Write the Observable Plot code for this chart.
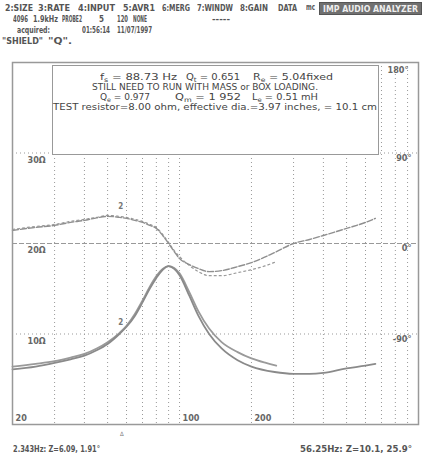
<!DOCTYPE html>
<html><head><meta charset="utf-8">
<script src="https://cdn.jsdelivr.net/npm/d3@7"></script>
<script src="https://cdn.jsdelivr.net/npm/@observablehq/plot@0.6"></script>
<style>
body{margin:0;background:#fff;}
#wrap{position:relative;width:423px;height:455px;overflow:hidden;background:#fff;}
#wrap svg{position:absolute;left:0;top:0;}
.t{position:absolute;white-space:nowrap;transform-origin:0 50%;font-family:"DejaVu Sans Condensed","DejaVu Sans",sans-serif;color:#555;line-height:1;}
.t sub{font-size:70%;vertical-align:-2px;line-height:0;}
</style></head><body><div id="wrap"></div>
<script>
// ---- data ----
const freqA = [20,25,30,35,40,45,50,56,60,65,70,75,80,85,90,95,100,110,120,133,150,175,200,250,300,350,400,500,600,660];
const zA    = [6.1,6.4,6.8,7.2,7.6,8.2,8.9,10.0,10.8,12.0,13.5,15.0,16.2,17.1,17.5,17.2,16.5,14.2,12.0,10.0,8.4,7.1,6.4,5.8,5.6,5.6,5.7,6.2,6.5,6.7];
const phA   = [13,16,18,21,23,25.5,27,26,25,23,21,18,15,8,0,-8,-15,-21,-25,-28,-27,-23,-19,-9,0,4,8,15,21,25];
const freqB = [20,25,30,35,40,45,50,56,60,65,70,75,80,85,90,95,100,110,120,133,150,175,200,230,254];
const zB    = [6.4,6.7,7.0,7.4,7.8,8.4,9.1,10.1,10.9,12.2,13.7,15.2,16.4,17.2,17.5,17.3,16.7,14.6,12.5,10.6,9.1,8.0,7.3,6.8,6.5];
const phB   = [14,17,19,22,24,26,28,27,26,24,22,19,16,9,1,-7,-13,-22,-28,-32,-32,-29,-26,-22,-18];
const gridFreqs = [30,40,50,60,70,80,90,100,200,300,400,500,600,700,800,900];
const zTicks = [10,20,30];
const zTickLabels = ["10Ω","20Ω","30Ω"];
const phaseTicks = [90,0,-90];
const phaseTickLabels = ["90°","0°","-90°"];
const phaseTop = 180;
const freqTicks = [20,100,200];
const freqTickLabels = ["20","100","200"];
const cursorFreq = 56.2, cursorZ = 10.1, cursorPhase = 25.9;

// phase (deg) shares the vertical scale: +180° top (40Ω), -180° bottom (0Ω)
const phY = p => 20 + p / 9;

const serA = freqA.map((f,i)=>({f, z:zA[i], p:phY(phA[i])}));
const serB = freqB.map((f,i)=>({f, z:zB[i], p:phY(phB[i])}));

const grey = "#8a8a8a";
const font = '"DejaVu Sans Condensed","DejaVu Sans",sans-serif';

const chart = Plot.plot({
  width: 423, height: 455,
  marginLeft: 12, marginRight: 5, marginTop: 62, marginBottom: 31,
  style: {background: "#fff", fontFamily: font},
  x: {type: "log", domain: [20, 1000], axis: null},
  y: {domain: [0, 40], axis: null},
  marks: [
    Plot.ruleX(gridFreqs, {stroke: "#999", strokeDasharray: "1,3", strokeWidth: 1}),
    Plot.ruleY([10, 30], {stroke: "#999", strokeDasharray: "1,3", strokeWidth: 1}),
    Plot.ruleY([20], {stroke: "#999", strokeDasharray: "5,2", strokeWidth: 1}),
    Plot.line(serB, {x: "f", y: "p", stroke: "#9a9a9a", strokeWidth: 1.2, strokeDasharray: "2,3", curve: "monotone-x"}),
    Plot.line(serA, {x: "f", y: "p", stroke: "#8f8f8f", strokeWidth: 1.4, strokeDasharray: "6,2", curve: "monotone-x"}),
    Plot.line(serB, {x: "f", y: "z", stroke: "#9a9a9a", strokeWidth: 1.8, curve: "monotone-x"}),
    Plot.line(serA, {x: "f", y: "z", stroke: grey, strokeWidth: 1.8, curve: "monotone-x"}),
    Plot.frame({stroke: "#999", strokeWidth: 1.5}),
    Plot.text(zTicks, {x: () => 20, y: d => d, text: (d, i) => zTickLabels[i], textAnchor: "start", dx: 15, dy: 7, fontSize: 9, fontWeight: "bold", fill: "#666"}),
    Plot.text(phaseTicks, {x: () => 1000, y: d => phY(d), text: (d, i) => phaseTickLabels[i], textAnchor: "end", dx: -7, dy: 5, fontSize: 9, fontWeight: "bold", fill: "#666"}),
    Plot.text([phaseTop], {x: () => 1000, y: d => phY(d), text: d => d + "°", textAnchor: "end", dx: -10, dy: 8, fontSize: 9, fontWeight: "bold", fill: "#666"}),
    Plot.text(freqTicks, {x: d => d, y: () => 0, text: (d, i) => freqTickLabels[i], textAnchor: "start", dx: 3, dy: -6, fontSize: 9, fontWeight: "bold", fill: "#666"}),
    Plot.text([cursorFreq], {x: d => d, y: () => cursorZ, text: () => "2", dx: 1, dy: -11, fontSize: 8, fontWeight: "bold", fill: "#777"}),
    Plot.text([cursorFreq], {x: d => d, y: () => phY(cursorPhase), text: () => "2", dx: 1, dy: -11, fontSize: 8, fontWeight: "bold", fill: "#777"}),
    Plot.text([cursorFreq], {x: d => d, y: () => 0, text: () => "Δ", dx: 2, dy: 10, fontSize: 6, fill: "#777"})
  ]
});
const wrap = document.getElementById("wrap");
wrap.appendChild(chart);

function put(html, x0, x1, yc, o = {}) {
  const s = document.createElement("div");
  s.className = "t";
  s.innerHTML = html;
  s.style.fontSize = (o.size || 9) + "px";
  s.style.fontWeight = o.bold ? "bold" : "normal";
  if (o.color) s.style.color = o.color;
  wrap.appendChild(s);
  const r = s.getBoundingClientRect();
  s.style.left = x0 + "px";
  s.style.top = (yc - r.height / 2) + "px";
  s.style.transform = `scaleX(${(x1 - x0) / r.width})`;
  return s;
}
function box(x, y, w, h, bg, border) {
  const d = document.createElement("div");
  Object.assign(d.style, {position: "absolute", left: x + "px", top: y + "px", width: w + "px", height: h + "px", boxSizing: "border-box", background: bg, border: border});
  wrap.appendChild(d);
}

// header
const B = {bold: true, size: 9.5};
put("2:SIZE", 5, 33, 8, B); put("3:RATE", 38, 70, 8, B); put("4:INPUT", 78, 115, 8, B);
put("5:AVR1", 123, 155, 8, B); put("6:MERG", 162, 190, 8, B); put("7:WINDW", 197, 233, 8, B);
put("8:GAIN", 240, 268, 8, B); put("DATA", 278, 297, 8, B); put("mc", 306, 315, 8, {bold: true, size: 8});
box(319, 2, 103, 13, "#707070", "1px solid #555");
put("IMP AUDIO ANALYZER", 323, 418, 8.5, {bold: true, size: 9.5, color: "#eee"});
put("4096", 13, 28, 19, B); put("1.9kHz", 33, 58, 19, B); put("PROBE2", 62, 82, 19, B);
put("5", 99, 104, 19, B); put("120", 117, 128, 19, B); put("NONE", 133, 147, 19, B); put("-----", 212, 230, 19, B);
put("acquired:", 17, 50, 30, B); put("01:56:14", 82, 110, 30, B); put("11/07/1997", 117, 152, 30, B);
put("\"SHIELD\"", 2, 43, 41, B); put("\"Q\".", 48, 72, 41, B);

// info box
box(52, 65, 327, 90, "#fff", "1.5px solid #999");
const N = {size: 9, color: "#444"};
put("f<sub>s</sub> = 88.73 Hz", 100, 177, 77, N);
put("Q<sub>t</sub> = 0.651", 186, 240, 77, N);
put("R<sub>e</sub> = 5.04fixed", 253, 333, 77, N);
put("STILL NEED TO RUN WITH MASS or BOX LOADING.", 92, 318, 87, N);
put("Q<sub>e</sub> = 0.977", 100, 150, 97, N);
put("Q<sub>m</sub> = 1 952", 175, 241, 97, N);
put("L<sub>e</sub> = 0.51 mH", 252, 318, 97, N);
put("TEST resistor=8.00 ohm, effective dia.=3.97 inches, = 10.1 cm", 53, 377, 107, N);

// footer
put("2.343Hz: Z=6.09, 1.91°", 13, 100, 449, B);
put("56.25Hz: Z=10.1, 25.9°", 300, 412, 449, B);
</script></body></html>
